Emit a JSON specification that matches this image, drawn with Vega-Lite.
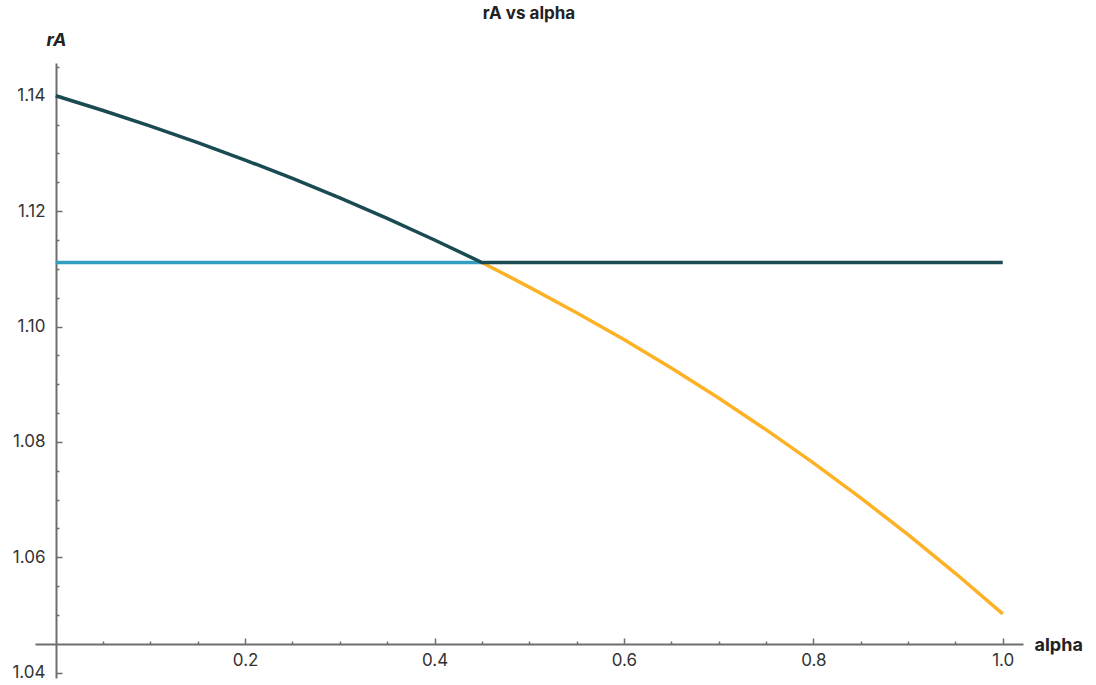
{
  "$schema": "https://vega.github.io/schema/vega-lite/v6.json",
  "autosize": "none",
  "width": 988,
  "height": 615,
  "padding": {"left": 35, "top": 63, "right": 73, "bottom": 7},
  "background": "white",
  "config": {
    "view": {"stroke": null},
    "font": "Inter",
    "axis": {"grid": false, "domainColor": "#6e6e6e", "domainWidth": 2, "tickColor": "#6e6e6e", "tickWidth": 1.5, "labelColor": "#333333", "labelFont": "Inter", "labelFontSize": 17, "titleFont": "Inter", "titleFontSize": 18, "titleColor": "#222222"}
  },
  "title": {"text": "rA vs alpha", "anchor": "middle", "fontSize": 17, "fontWeight": "bold", "font": "Inter", "color": "#222222", "offset": 8},
  "data": {"values": [
    {"series": "orange", "alpha": 0.45, "rA": 1.1111},
    {"series": "orange", "alpha": 0.50, "rA": 1.10683},
    {"series": "orange", "alpha": 0.55, "rA": 1.10240},
    {"series": "orange", "alpha": 0.60, "rA": 1.09773},
    {"series": "orange", "alpha": 0.65, "rA": 1.09280},
    {"series": "orange", "alpha": 0.70, "rA": 1.08760},
    {"series": "orange", "alpha": 0.75, "rA": 1.08212},
    {"series": "orange", "alpha": 0.80, "rA": 1.07636},
    {"series": "orange", "alpha": 0.85, "rA": 1.07030},
    {"series": "orange", "alpha": 0.90, "rA": 1.06392},
    {"series": "orange", "alpha": 0.95, "rA": 1.05723},
    {"series": "orange", "alpha": 1.00, "rA": 1.0502},
    {"series": "blue", "alpha": 0.0, "rA": 1.1111},
    {"series": "blue", "alpha": 0.45, "rA": 1.1111},
    {"series": "dark", "alpha": 0.00, "rA": 1.14},
    {"series": "dark", "alpha": 0.05, "rA": 1.13743},
    {"series": "dark", "alpha": 0.10, "rA": 1.13472},
    {"series": "dark", "alpha": 0.15, "rA": 1.13186},
    {"series": "dark", "alpha": 0.20, "rA": 1.12885},
    {"series": "dark", "alpha": 0.25, "rA": 1.12567},
    {"series": "dark", "alpha": 0.30, "rA": 1.12230},
    {"series": "dark", "alpha": 0.35, "rA": 1.11875},
    {"series": "dark", "alpha": 0.40, "rA": 1.11499},
    {"series": "dark", "alpha": 0.45, "rA": 1.1111},
    {"series": "dark", "alpha": 1.00, "rA": 1.1111}
  ]},
  "resolve": {"axis": {"x": "independent", "y": "independent"}},
  "layer": [
    {
      "transform": [{"filter": "datum.series === 'orange'"}],
      "mark": {"type": "line", "color": "#fdb226", "strokeWidth": 3.5},
      "encoding": {
        "x": {"field": "alpha", "type": "quantitative", "scale": {"domain": [-0.0219, 1.0214], "nice": false, "zero": false},
          "axis": {"orient": "bottom", "offset": -34, "values": [0.2, 0.4, 0.6, 0.8, 1.0], "format": ".1f", "tickSize": -6, "labelPadding": 14, "labelFlush": false, "title": "alpha", "titleAngle": 0, "titleAlign": "left", "titleBaseline": "middle", "titleX": 999, "titleY": 1, "titleFontWeight": "bold"}},
        "y": {"field": "rA", "type": "quantitative", "scale": {"domain": [1.03908, 1.14567], "nice": false, "zero": false},
          "axis": {"orient": "left", "offset": -21, "values": [1.04, 1.06, 1.08, 1.1, 1.12, 1.14], "format": ".2f", "tickSize": -6, "labelPadding": 17, "labelFlush": false, "title": "rA", "titleAngle": 0, "titleAlign": "center", "titleBaseline": "middle", "titleX": 0, "titleY": -23, "titleFontWeight": "bold", "titleFontStyle": "italic", "titleFontSize": 18}}
      }
    },
    {
      "transform": [{"filter": "datum.series === 'blue'"}],
      "mark": {"type": "line", "color": "#339ec2", "strokeWidth": 3.5},
      "encoding": {
        "x": {"field": "alpha", "type": "quantitative",
          "axis": {"orient": "bottom", "offset": -34, "domain": false, "labels": false, "title": null, "tickSize": -3, "values": [0.05, 0.1, 0.15, 0.25, 0.3, 0.35, 0.45, 0.5, 0.55, 0.65, 0.7, 0.75, 0.85, 0.9, 0.95]}},
        "y": {"field": "rA", "type": "quantitative",
          "axis": {"orient": "left", "offset": -21, "domain": false, "labels": false, "title": null, "tickSize": -3, "values": [1.05, 1.055, 1.065, 1.07, 1.075, 1.085, 1.09, 1.095, 1.105, 1.11, 1.115, 1.125, 1.13, 1.135, 1.145]}}
      }
    },
    {
      "transform": [{"filter": "datum.series === 'dark'"}],
      "mark": {"type": "line", "color": "#1a4a52", "strokeWidth": 3.5},
      "encoding": {
        "x": {"field": "alpha", "type": "quantitative", "axis": null},
        "y": {"field": "rA", "type": "quantitative", "axis": null}
      }
    }
  ]
}
